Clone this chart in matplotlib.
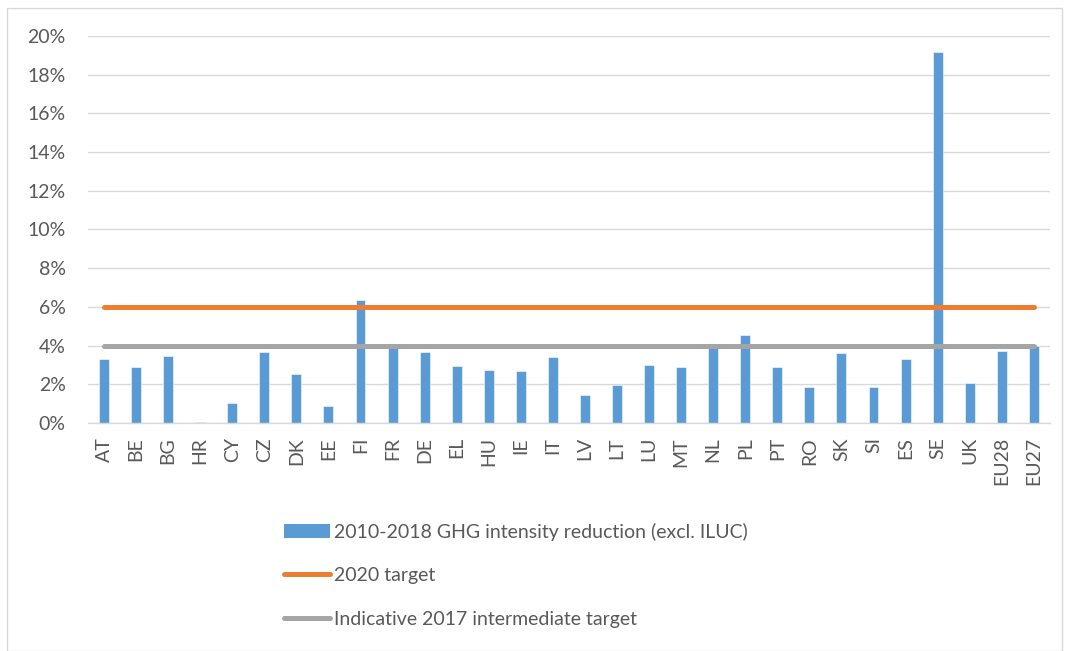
import matplotlib
matplotlib.use("Agg")
import matplotlib.pyplot as plt
from matplotlib.patches import Rectangle, Patch
from matplotlib.lines import Line2D
from matplotlib.ticker import FuncFormatter, MultipleLocator

countries = ["AT", "BE", "BG", "HR", "CY", "CZ", "DK", "EE", "FI", "FR",
             "DE", "EL", "HU", "IE", "IT", "LV", "LT", "LU", "MT", "NL",
             "PL", "PT", "RO", "SK", "SI", "ES", "SE", "UK", "EU28", "EU27"]
reduction = [3.31, 2.88, 3.48, 0.05, 1.03, 3.69, 2.52, 0.86, 6.34, 3.86,
             3.67, 2.95, 2.72, 2.71, 3.43, 1.47, 1.97, 2.98, 2.91, 3.88,
             4.55, 2.90, 1.88, 3.64, 1.86, 3.29, 19.17, 2.07, 3.72, 3.98]
target_2020 = 6.0
target_2017 = 4.0

labels = ["2010-2018 GHG intensity reduction (excl. ILUC)",
          "2020 target",
          "Indicative 2017 intermediate target"]

plt.rcParams['font.family'] = ['Lato', 'DejaVu Sans']
txt = "#595959"

fig = plt.figure(figsize=(10.68, 6.51), dpi=100)
ax = fig.add_axes([0.0824, 0.350, 0.9006, 0.595])

x = list(range(len(countries)))
ax.bar(x, reduction, width=0.31, color="#5B9BD5", edgecolor="white",
       linewidth=0.4, zorder=2)
ax.plot([x[0], x[-1]], [target_2020] * 2, color="#ED7D31", lw=3.6,
        solid_capstyle="round", zorder=3)
ax.plot([x[0], x[-1]], [target_2017] * 2, color="#A5A5A5", lw=3.6,
        solid_capstyle="round", zorder=3)

ax.set_xlim(-0.5, len(countries) - 0.5)
ax.set_ylim(0, 20)
ax.yaxis.set_major_locator(MultipleLocator(2))
ax.yaxis.set_major_formatter(FuncFormatter(lambda v, p: f"{v:.0f}%"))
ax.grid(axis="y", color="#D9D9D9", lw=1.0, zorder=0)
ax.set_axisbelow(True)
for s in ["top", "right", "left"]:
    ax.spines[s].set_visible(False)
ax.spines["bottom"].set_color("#D9D9D9")
ax.spines["bottom"].set_linewidth(1.0)
ax.set_xticks(x)
ax.set_xticklabels(countries, rotation=90, fontsize=14, color=txt)
ax.tick_params(axis="x", length=0, pad=10)
ax.tick_params(axis="y", length=0, pad=16, labelsize=14, labelcolor=txt)

handles = [Patch(facecolor="#5B9BD5"),
           Line2D([0], [0], color="#ED7D31", lw=3.6, solid_capstyle="round"),
           Line2D([0], [0], color="#A5A5A5", lw=3.6, solid_capstyle="round")]
leg = fig.legend(handles, labels, loc="upper left",
                 bbox_to_anchor=(0.2584, 0.209), frameon=False, fontsize=14,
                 labelcolor=txt, handlelength=2.4, handletextpad=0.2,
                 labelspacing=1.36, borderaxespad=0)

fig.patches.append(Rectangle((0.0065, 0.0), 0.988, 0.988,
                             transform=fig.transFigure, fill=False,
                             edgecolor="#D9D9D9", lw=1.0))

fig.savefig("out.png", dpi=100)
